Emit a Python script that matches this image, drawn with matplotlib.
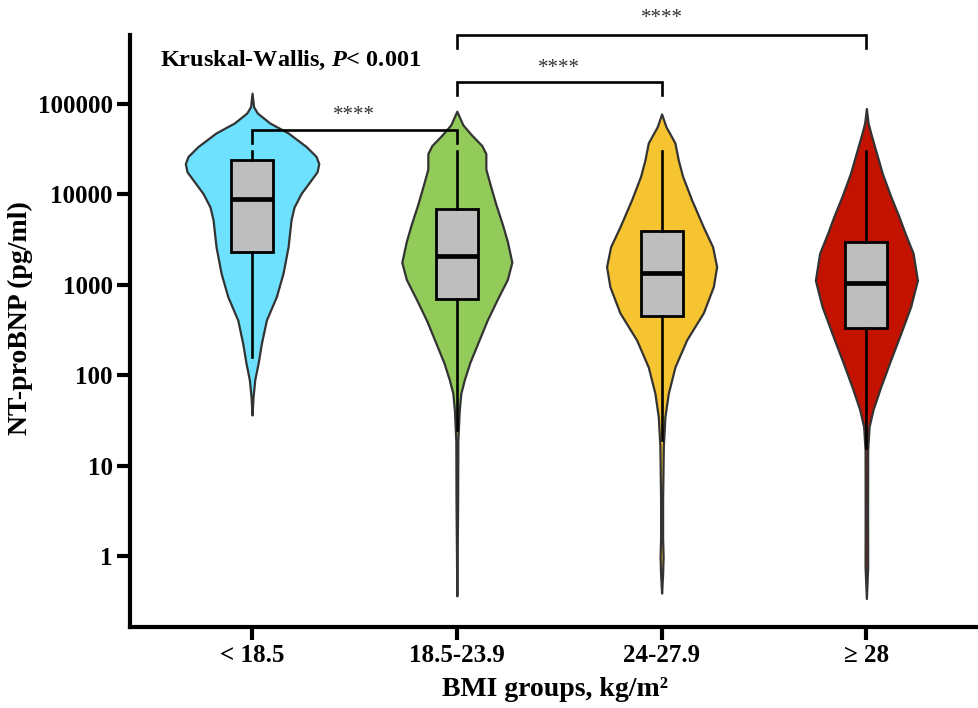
from __future__ import annotations

import matplotlib
matplotlib.use("Agg")
import matplotlib.pyplot as plt
import numpy as np
from matplotlib.ticker import NullLocator

groups = ["< 18.5", "18.5-23.9", "24-27.9", "\u2265 28"]
fill_colors = ["#6DE1FE", "#92CB5A", "#F6C431", "#C41200"]

# violin outlines: log10(NT-proBNP) level and half width (px)
lt185_log = [5.12, 4.97, 4.90, 4.79, 4.68, 4.53, 4.42, 4.34, 4.25, 4.16, 4.01,
             3.86, 3.72, 3.42, 3.13, 2.87, 2.61, 2.35, 2.13, 1.95, 1.76, 1.56]
lt185_den = [0, 1.5, 5.3, 17.7, 36, 54, 64, 66.7, 65, 59, 49,
             42, 39, 36, 31, 24.3, 14.3, 9.3, 6, 2.7, 1, 0]

normal_log = [4.92, 4.77, 4.66, 4.54, 4.45, 4.28, 4.12, 3.89, 3.67, 3.48, 3.25,
              3.06, 2.83, 2.60, 2.37, 2.14, 1.95, 1.80, 1.61, 1.27, 0.60, -0.44]
normal_den = [0, 6, 14.5, 25, 29, 29, 33, 39, 45.5, 50.5, 55,
              50.5, 40, 30, 21.5, 13, 7.5, 4, 2.4, 1, 0.8, 0]

over_log = [4.89, 4.75, 4.57, 4.38, 4.20, 3.94, 3.64, 3.42, 3.20, 2.98, 2.69,
            2.39, 2.09, 1.80, 1.54, 1.21, 0.62, 0.20, -0.01, -0.20, -0.41]
over_den = [0, 4.3, 13.3, 16.7, 21, 30, 41.7, 51, 55, 51.7, 41.7,
            25, 13.3, 6.7, 3.3, 1.7, 1, 1, 1.5, 1, 0]

obese_log = [4.95, 4.79, 4.68, 4.46, 4.23, 3.98, 3.75, 3.57, 3.35, 3.05, 2.76,
             2.46, 2.17, 1.87, 1.62, 1.43, 1.17, 0.50, -0.12, -0.47]
obese_den = [0, 1.7, 4.3, 10, 16, 24.3, 32.7, 38.7, 46.7, 51, 44.3,
             34.3, 24.3, 14.3, 6.7, 2.7, 1.3, 1.2, 1.3, 0]

q1 = [2300, 700, 450, 335]
median = [9000, 2070, 1360, 1060]
q3 = [24000, 6900, 3900, 3000]
whisker_low = [160, 25, 19, 15.5]
whisker_high = [30000, 30000, 30000, 30000]

pairs = [(0, 1), (1, 2), (1, 3)]
pair_labels = ["****", "****", "****"]
kw_label = "Kruskal-Wallis, $P$< 0.001"

yticks = [1, 10, 100, 1000, 10000, 100000]
ytick_labels = ["1", "10", "100", "1000", "10000", "100000"]

plt.rcParams["font.family"] = "Liberation Serif"
plt.rcParams["font.weight"] = "bold"
plt.rcParams["axes.labelweight"] = "bold"
plt.rcParams["mathtext.fontset"] = "custom"
plt.rcParams["mathtext.rm"] = "Liberation Serif:bold"
plt.rcParams["mathtext.it"] = "Liberation Serif:italic:bold"

fig = plt.figure(figsize=(9.79, 7.08), dpi=100)
ax = fig.add_axes([0.1328, 0.1144, 0.8672, 0.8362])
ax.set_yscale("log")

px = 1 / 204.7  # x data units per pixel
violins = [(lt185_log, lt185_den), (normal_log, normal_den),
           (over_log, over_den), (obese_log, obese_den)]
for i, (lv, dn) in enumerate(violins):
    y = 10 ** np.asarray(lv)
    w = np.asarray(dn) * px
    ax.fill_betweenx(y, i - w, i + w, facecolor=fill_colors[i],
                     edgecolor="#333333", linewidth=1.6, zorder=2)

stats = [dict(q1=q1[i], med=median[i], q3=q3[i], whislo=whisker_low[i],
              whishi=whisker_high[i], fliers=[]) for i in range(len(groups))]
ax.bxp(stats, positions=range(len(groups)), widths=0.205, patch_artist=True,
       showcaps=False, showfliers=False, manage_ticks=False,
       boxprops=dict(facecolor="#BEBEBE", edgecolor="black", linewidth=2.0),
       medianprops=dict(color="black", linewidth=3.4),
       whiskerprops=dict(color="black", linewidth=1.9), zorder=3)

# significance brackets
bracket_top = [10 ** 4.712, 10 ** 5.243, 10 ** 5.763]
bracket_leg = [10 ** 4.569, 10 ** 5.100, 10 ** 5.619]
star_y = [10 ** 4.878, 10 ** 5.392, 10 ** 5.951]
for (a, b), lab, top, leg, sy in zip(pairs, pair_labels, bracket_top, bracket_leg, star_y):
    ax.plot([a, a, b, b], [leg, top, top, leg], color="black", lw=1.9,
            clip_on=False, zorder=4, solid_joinstyle="miter")
    ax.text((a + b) / 2, sy, lab, ha="center", va="center", fontsize=15,
            fontweight="normal", color="#333333", clip_on=False)

ax.text(-0.449, 10 ** 5.487, kw_label, fontsize=17.5, ha="left", va="center")

ax.set_xlim(-0.596, 3.55)
ax.set_ylim(0.164, 5.8e5)
ax.set_yticks(yticks)
ax.set_yticklabels(ytick_labels)
ax.yaxis.set_minor_locator(NullLocator())
ax.set_xticks(range(len(groups)))
ax.set_xticklabels(groups)
ax.tick_params(width=3, length=9.5, labelsize=18, pad=3)

for side in ("top", "right"):
    ax.spines[side].set_visible(False)
for side in ("left", "bottom"):
    ax.spines[side].set_linewidth(3)

ax.set_ylabel("NT-proBNP (pg/ml)", fontsize=20)
ax.yaxis.set_label_coords(-0.114, 0.522)
ax.set_xlabel("BMI groups, kg/m\u00b2", fontsize=20, labelpad=7)

fig.savefig("out.png", dpi=100)
